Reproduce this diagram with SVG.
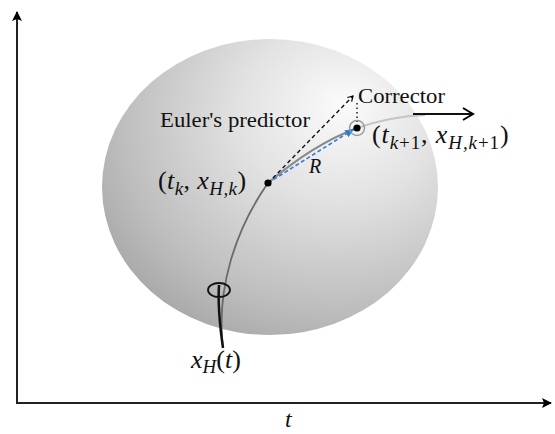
<svg xmlns="http://www.w3.org/2000/svg" width="555" height="434" viewBox="0 0 555 434">
<defs>
<radialGradient id="sph" cx="0.68" cy="0.3" r="0.85" fx="0.72" fy="0.22">
<stop offset="0" stop-color="#fbfbfb"/>
<stop offset="0.35" stop-color="#e2e2e2"/>
<stop offset="0.75" stop-color="#bdbdbd"/>
<stop offset="1" stop-color="#a0a0a0"/>
</radialGradient>
<marker id="ah" markerWidth="10" markerHeight="10" refX="9" refY="5" orient="auto" markerUnits="userSpaceOnUse">
<path d="M0,0 L10,5 L0,10 L2,5 Z" fill="#000"/>
</marker>
<marker id="bh" markerWidth="10" markerHeight="8" refX="9" refY="4" orient="auto" markerUnits="userSpaceOnUse">
<path d="M0,0 L9,4 L0,8 Z" fill="#2f7bd6"/>
</marker>
<marker id="oh" markerWidth="14" markerHeight="14" refX="12" refY="7" orient="auto" markerUnits="userSpaceOnUse">
<path d="M2,1 L12,7 L2,13" fill="none" stroke="#000" stroke-width="2"/>
</marker>
<marker id="sh" markerWidth="8" markerHeight="8" refX="6" refY="4" orient="auto" markerUnits="userSpaceOnUse">
<path d="M1,1 L6,4 L1,7" fill="none" stroke="#000" stroke-width="1.2"/>
</marker>
</defs>
<style>
.t{font-family:"Liberation Serif","Times New Roman",serif;fill:#111}
.i{font-style:italic}
.lab{font-size:20px}
.m{font-size:26px}
.s{font-size:19px}
</style>
<g id="sphere"><ellipse cx="270" cy="187" rx="168" ry="148" fill="url(#sph)"/></g>
<g id="axes" stroke="#222" stroke-width="2" fill="none">
<line x1="17" y1="403" x2="17" y2="12" marker-end="url(#ah)"/>
<line x1="16" y1="403" x2="551" y2="403" marker-end="url(#ah)"/>
</g>
<g id="connectors" fill="none">
<path d="M223,348 C216,290 235,230 268,183" stroke="#6a6a6a" stroke-width="1.8"/>
<path d="M223,348 C219,320 218,300 219,285" stroke="#111" stroke-width="2.5"/>
<path d="M268,183 C295,160 325,140 357,128" stroke="#8a8a8a" stroke-width="2"/>
<path d="M357,128 C380,120 400,116 425,115" stroke="#c4c4c4" stroke-width="2"/>
<line x1="413" y1="114" x2="473" y2="114" stroke="#111" stroke-width="2.2" marker-end="url(#oh)"/>
<line x1="268" y1="183" x2="353" y2="96" stroke="#111" stroke-width="1.4" stroke-dasharray="4,3" marker-end="url(#sh)"/>
<line x1="357" y1="103" x2="357" y2="122" stroke="#111" stroke-width="1.4" stroke-dasharray="1.5,3"/>
<line x1="268" y1="183" x2="354" y2="129" stroke="#2f7bd6" stroke-width="1.6" stroke-dasharray="4,2.5" marker-end="url(#bh)"/>
</g>
<g id="xH-marker"><ellipse cx="219" cy="290" rx="11" ry="7" fill="none" stroke="#111" stroke-width="1.8"/></g>
<g id="point-k"><circle cx="268" cy="183" r="3.6" fill="#000"/></g>
<g id="point-k1"><circle cx="357" cy="128" r="7.5" fill="none" stroke="#9a9a9a" stroke-width="1.5"/><circle cx="357" cy="128" r="3.6" fill="#000"/></g>
<g id="labels">
<text class="t lab" x="160" y="127" textLength="150" lengthAdjust="spacingAndGlyphs">Euler's predictor</text>
<text class="t lab" x="358" y="103" textLength="87" lengthAdjust="spacingAndGlyphs">Corrector</text>
<text class="t i lab" x="309" y="173">R</text>
<text class="t m" x="158" y="189" letter-spacing="0.4">(<tspan class="i">t</tspan><tspan class="i s" dy="6">k</tspan><tspan dy="-6">, </tspan><tspan class="i">x</tspan><tspan class="i s" dy="6">H,k</tspan><tspan dy="-6">)</tspan></text>
<text class="t m" x="372" y="143" letter-spacing="0.9">(<tspan class="i">t</tspan><tspan class="s" dy="6"><tspan class="i">k</tspan>+1</tspan><tspan dy="-6">, </tspan><tspan class="i">x</tspan><tspan class="s" dy="6"><tspan class="i">H,k</tspan>+1</tspan><tspan dy="-6">)</tspan></text>
<text class="t m" x="191" y="368"><tspan class="i">x</tspan><tspan class="i s" dy="5">H</tspan><tspan dy="-5">(</tspan><tspan class="i">t</tspan>)</text>
<text class="t i" x="285" y="427" font-size="24">t</text>
</g>
</svg>
